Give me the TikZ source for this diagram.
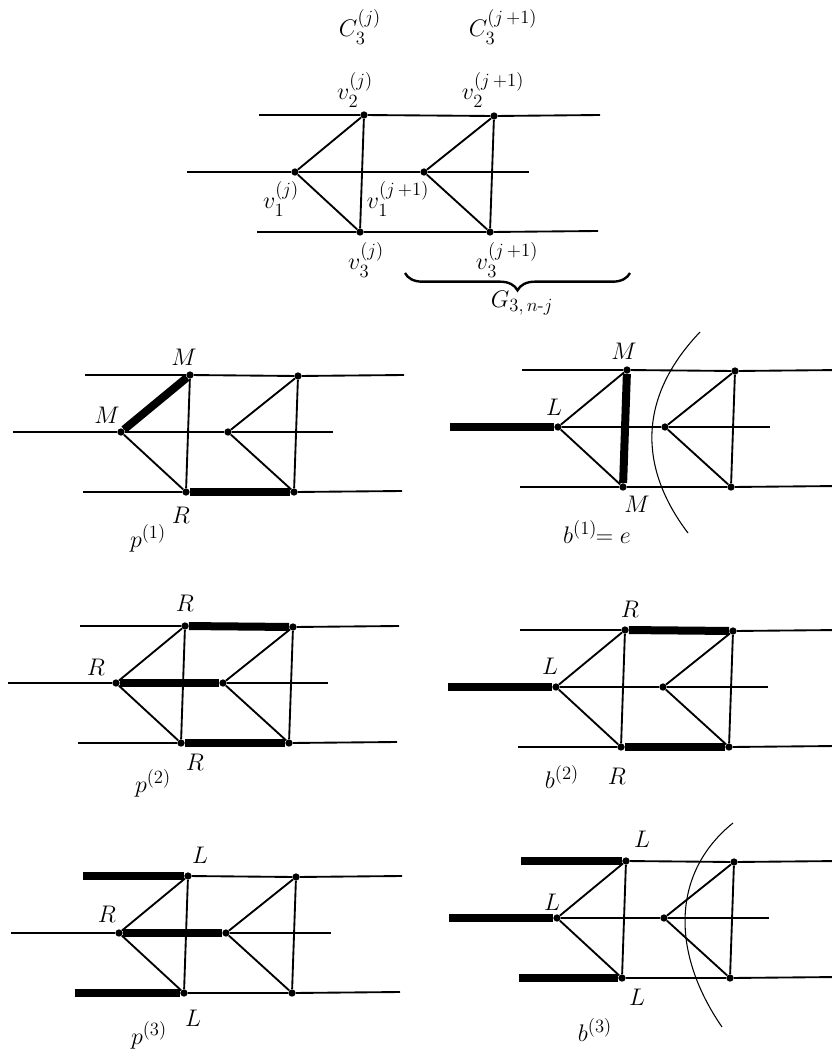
\documentclass[tikz,border=0pt]{standalone}
\usepackage{fix-cm}
\usepackage{amsmath}
\usetikzlibrary{decorations.pathreplacing}
\DeclareMathSizes{18}{18}{14}{10}

% one ladder piece: two triangles on three rails, first vertex at the origin
\newcommand{\ladder}[1]{%
  \node[vtx] (a1) at (0,0) {};
  \node[vtx] (a2) at (69,-57) {};
  \node[vtx] (a3) at (65,60) {};
  \node[vtx] (b1) at (#1,0) {};
  \node[vtx] (b2) at (#1+70,-56) {};
  \node[vtx] (b3) at (#1+66,60) {};
  \coordinate (tl) at (-36,-57);
  \coordinate (tr) at (#1+176,-57);
  \coordinate (ml) at (-108,0);
  \coordinate (mr) at (#1+105,0);
  \coordinate (bl) at (-38,60);
  \coordinate (br) at (#1+174,59);
  \draw[ln] (tl) -- (a2) -- (b2) -- (tr);
  \draw[ln] (ml) -- (a1) -- (b1) -- (mr);
  \draw[ln] (bl) -- (a3) -- (b3) -- (br);
  \draw[ln] (a2) -- (a1) -- (a3) -- (a2);
  \draw[ln] (b2) -- (b1) -- (b3) -- (b2);
}

\begin{document}
\begin{tikzpicture}[x=0.75pt,y=-0.75pt,
  vtx/.style={circle,fill,inner sep=0pt,minimum size=5.5pt},
  ln/.style={line width=1.4pt},
  heavy/.style={line width=6pt},
  cutarc/.style={line width=0.8pt},
  lbl/.style={font=\fontsize{18}{21}\selectfont,inner sep=0pt}]
\useasboundingbox (0,0) rectangle (832,1057);

% top: the two copies of C_3
\begin{scope}[shift={(295,172)},name prefix=t-]
\ladder{129}
\node[lbl] (c1) at (65,-145) {$C_3^{(j)}$};
\node[lbl] (c2) at (208,-145) {$C_3^{(j\,+1)}$};
\node[lbl] (v2j) at (60,-82) {$v_2^{(j)}$};
\node[lbl] (v2k) at (198,-82) {$v_2^{(j\,+1)}$};
\node[lbl] (v1j) at (-14,27) {$v_1^{(j)}$};
\node[lbl] (v1k) at (103,27) {$v_1^{(j\,+1)}$};
\node[lbl] (v3j) at (71,88) {$v_3^{(j)}$};
\node[lbl] (v3k) at (212,88) {$v_3^{(j\,+1)}$};
\coordinate (br1) at (110,101);
\coordinate (br2) at (335,101);
\draw[decorate,decoration={brace,amplitude=13pt,mirror},line width=1.8pt] (br1) -- (br2);
\node[lbl] (g) at (227,131) {$G_{3,\,n\text{-}j}$};
\end{scope}

% p^(1)
\begin{scope}[shift={(121,432)},name prefix=p1-]
\ladder{107}
\draw[heavy] (a1) -- (a2);
\draw[heavy] (a3) -- (b3);
\node[lbl] (m1) at (63,-75) {$M$};
\node[lbl] (m2) at (-14,-17) {$M$};
\node[lbl] (r1) at (60,83) {$R$};
\node[lbl] (nm) at (27,106) {$p^{(1)}$};
\end{scope}

% b^(1)
\begin{scope}[shift={(558,427)},name prefix=b1-]
\ladder{107}
\draw[heavy] (ml) -- (a1);
\draw[heavy] (a2) -- (a3);
\coordinate (s1) at (142,-95);
\coordinate (s2) at (130,106);
\draw[cutarc] (s1) .. controls (80,-30) and (80,40) .. (s2);
\node[lbl] (m1) at (66,-76) {$M$};
\node[lbl] (l1) at (-4,-20) {$L$};
\node[lbl] (m2) at (79,77) {$M$};
\node[lbl] (nm) at (39,105) {$b^{(1)}\!\!= e$};
\end{scope}

% p^(2)
\begin{scope}[shift={(116,683)},name prefix=p2-]
\ladder{107}
\draw[heavy] (a2) -- (b2);
\draw[heavy] (a1) -- (b1);
\draw[heavy] (a3) -- (b3);
\node[lbl] (r1) at (69,-80) {$R$};
\node[lbl] (r2) at (-20,-16) {$R$};
\node[lbl] (r3) at (79,79) {$R$};
\node[lbl] (nm) at (37,100) {$p^{(2)}$};
\end{scope}

% b^(2)
\begin{scope}[shift={(556,687)},name prefix=b2-]
\ladder{107}
\draw[heavy] (ml) -- (a1);
\draw[heavy] (a2) -- (b2);
\draw[heavy] (a3) -- (b3);
\node[lbl] (r1) at (74,-78) {$R$};
\node[lbl] (l1) at (-6,-21) {$L$};
\node[lbl] (r2) at (61,89) {$R$};
\node[lbl] (nm) at (6,90) {$b^{(2)}$};
\end{scope}

% p^(3)
\begin{scope}[shift={(119,933)},name prefix=p3-]
\ladder{107}
\draw[heavy] (tl) -- (a2);
\draw[heavy] (a1) -- (b1);
\coordinate (bx) at (-44,60);
\draw[heavy] (bx) -- (a3);
\node[lbl] (l1) at (81,-78) {$L$};
\node[lbl] (r1) at (-12,-19) {$R$};
\node[lbl] (l2) at (74,85) {$L$};
\node[lbl] (nm) at (30,102) {$p^{(3)}$};
\end{scope}

% b^(3)
\begin{scope}[shift={(557,918)},name prefix=b3-]
\ladder{107}
\draw[heavy] (tl) -- (a2);
\draw[heavy] (ml) -- (a1);
\draw[heavy] (bl) -- (a3);
\coordinate (s1) at (176,-95);
\coordinate (s2) at (165,109);
\draw[cutarc] (s1) .. controls (114,-45) and (114,35) .. (s2);
\node[lbl] (l1) at (85,-79) {$L$};
\node[lbl] (l2) at (-5,-16) {$L$};
\node[lbl] (l3) at (80,79) {$L$};
\node[lbl] (nm) at (38,112) {$b^{(3)}$};
\end{scope}
\end{tikzpicture}
\end{document}
